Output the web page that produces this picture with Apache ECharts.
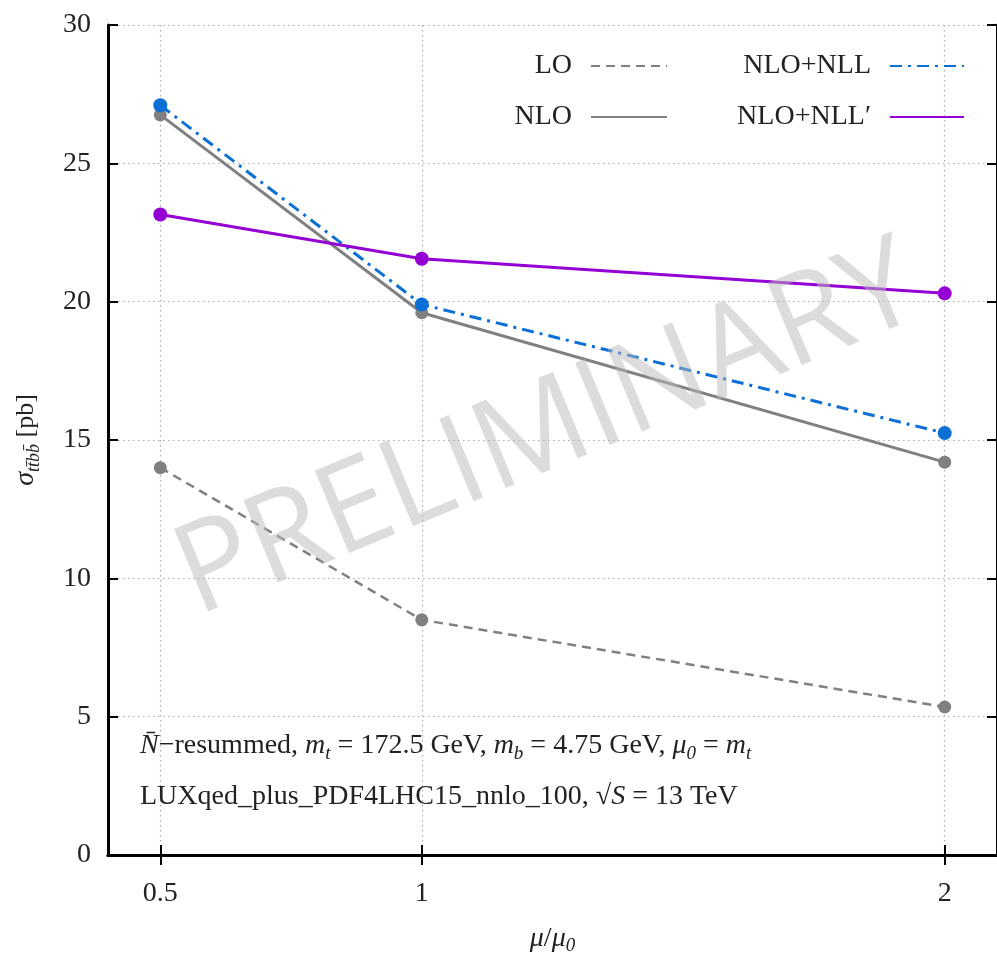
<!DOCTYPE html>
<html>
<head>
<meta charset="utf-8">
<script src="https://cdn.jsdelivr.net/npm/echarts@6/dist/echarts.min.js"></script>
<style>
  html, body { margin: 0; padding: 0; background: #fff; }
  #main { width: 997px; height: 960px; }
</style>
</head>
<body>
<div id="main"></div>
<script>
// mu/mu0 values
var muRatio = [0.5, 1, 2];
// cross sections in pb
var sigmaLO = [14.0, 8.5, 5.35];
var sigmaNLO = [26.75, 19.6, 14.2];
var sigmaNLONLL = [27.1, 19.9, 15.25];
var sigmaNLONLLp = [23.15, 21.55, 20.3];
var xTicks = ['0.5', '1', '2'];

var serif = '"Liberation Serif", "DejaVu Serif", serif';
var grey = '#808080', blue = '#0b6fd6', purple = '#9400d3';

function pairs(ys) {
  return muRatio.map(function (x, i) { return [x, ys[i]]; });
}

function lineSeries(name, ys, color, type, width) {
  return {
    name: name, type: 'line', data: pairs(ys), symbol: 'none',
    lineStyle: { color: color, width: width, type: type },
    itemStyle: { color: color },
    z: 3
  };
}
function dotSeries(ys, color, size) {
  return {
    name: '_pts', type: 'scatter', data: pairs(ys), symbolSize: size,
    itemStyle: { color: color, opacity: 1 }, z: 4, silent: true
  };
}

var xVals = xTicks.map(Number);
var subStyle = { fontFamily: serif, fontStyle: 'italic', fontSize: 19, verticalAlign: 'bottom', lineHeight: 16 };
var legendText = { fontFamily: serif, fontSize: 28, color: '#222', padding: [0, 14, 0, 0] };

option = {
  animation: false,
  backgroundColor: '#fff',
  grid: { left: 108, top: 25, right: -3.5, bottom: 103 },
  legend: [
    {
      data: ['LO', 'NLO'], orient: 'vertical', align: 'right',
      right: 324, top: 47, itemWidth: 76, itemHeight: 14, itemGap: 23,
      itemStyle: { opacity: 0 },
      textStyle: legendText
    },
    {
      data: ['NLO+NLL', 'NLO+NLL′'], orient: 'vertical', align: 'right',
      right: 27, top: 47, itemWidth: 74, itemHeight: 14, itemGap: 23,
      itemStyle: { opacity: 0 },
      textStyle: legendText
    }
  ],
  xAxis: [
    {
      type: 'value', min: 0.4, max: 2.1, position: 'bottom',
      axisLine: { lineStyle: { color: '#000', width: 3 } },
      axisTick: { inside: true, length: 10, lineStyle: { color: '#000', width: 2 }, customValues: xVals },
      axisLabel: { customValues: xVals, fontFamily: serif, fontSize: 28, color: '#222', margin: 25,
        formatter: function (v) { return String(v); } },
      splitLine: { show: true, lineStyle: { color: '#aaa', width: 1.2, type: [1.5, 3.5] } },
      name: '{i|μ}/{i|μ}{s|0}', nameLocation: 'middle', nameGap: 68,
      nameTextStyle: {
        fontFamily: serif, fontSize: 28, color: '#222',
        rich: {
          i: { fontFamily: serif, fontStyle: 'italic', fontSize: 28, lineHeight: 32 },
          s: subStyle
        }
      }
    },
    {
      type: 'value', min: 0.4, max: 2.1, position: 'top',
      axisLine: { lineStyle: { color: '#000', width: 3 } },
      axisTick: { inside: true, length: 10, lineStyle: { color: '#000', width: 2 }, customValues: xVals },
      axisLabel: { show: false },
      splitLine: { show: false }
    }
  ],
  yAxis: [
    {
      type: 'value', min: 0, max: 30, interval: 5, position: 'left',
      axisLine: { show: true, lineStyle: { color: '#000', width: 3 } },
      axisTick: { show: true, inside: true, length: 10, lineStyle: { color: '#000', width: 2 } },
      axisLabel: { fontFamily: serif, fontSize: 28, color: '#222', margin: 17 },
      splitLine: { show: true, lineStyle: { color: '#aaa', width: 1.2, type: [1.5, 3.5] } },
      name: '{s|σ}{b|tt̄bb̄} [pb]', nameLocation: 'middle', nameGap: 65, nameRotate: 90,
      nameTextStyle: {
        fontFamily: serif, fontSize: 26, color: '#222',
        rich: {
          s: { fontFamily: serif, fontStyle: 'italic', fontSize: 28, lineHeight: 34 },
          b: { fontFamily: serif, fontStyle: 'italic', fontSize: 18, verticalAlign: 'bottom', lineHeight: 15 }
        }
      }
    },
    {
      type: 'value', min: 0, max: 30, interval: 5, position: 'right',
      axisLine: { show: true, lineStyle: { color: '#000', width: 3 } },
      axisTick: { show: true, inside: true, length: 10, lineStyle: { color: '#000', width: 2 } },
      axisLabel: { show: false },
      splitLine: { show: false }
    }
  ],
  series: [
    lineSeries('LO', sigmaLO, grey, [9, 6], 2.5),
    lineSeries('NLO', sigmaNLO, grey, 'solid', 3),
    lineSeries('NLO+NLL', sigmaNLONLL, blue, [12, 6, 3, 6], 3),
    lineSeries('NLO+NLL′', sigmaNLONLLp, purple, 'solid', 3),
    dotSeries(sigmaLO, grey, 13),
    dotSeries(sigmaNLO, grey, 13),
    dotSeries(sigmaNLONLL, blue, 14),
    dotSeries(sigmaNLONLLp, purple, 14)
  ],
  graphic: [
    {
      type: 'text', left: 140, top: 732, z: 50,
      style: {
        text: '{i|N̄}−resummed, {i|m}{s|t} = 172.5 GeV, {i|m}{s|b} = 4.75 GeV, {i|μ}{s|0} = {i|m}{s|t}',
        font: '28px ' + serif, fill: '#222',
        rich: {
          i: { fontFamily: serif, fontStyle: 'italic', fontSize: 28, lineHeight: 34 },
          s: subStyle
        }
      }
    },
    {
      type: 'text', left: 140, top: 783, z: 50,
      style: {
        text: 'LUXqed_plus_PDF4LHC15_nnlo_100, √{i|S} = 13 TeV',
        font: '28px ' + serif, fill: '#222',
        rich: {
          i: { fontFamily: serif, fontStyle: 'italic', fontSize: 28, lineHeight: 34 }
        }
      }
    },
    {
      type: 'text', x: 548, y: 432, rotation: 22.5 * Math.PI / 180, z: 100, silent: true,
      style: {
        text: 'PRELIMINARY', font: '125px "Open Sans"',
        fill: 'rgba(185,185,185,0.5)', align: 'center', verticalAlign: 'middle'
      }
    }
  ]
};

var myChart = echarts.init(document.getElementById('main'));
myChart.setOption(option);
</script>
</body>
</html>
